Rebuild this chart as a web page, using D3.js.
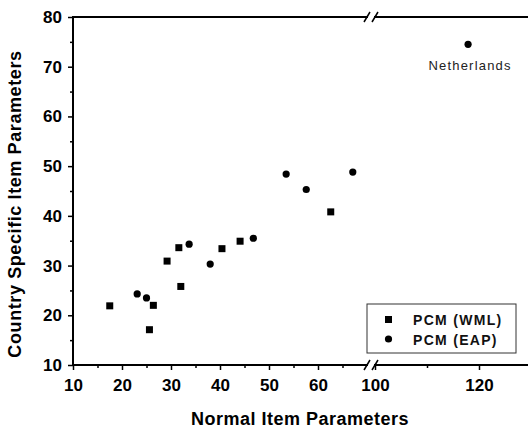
<!DOCTYPE html>
<head>
  <meta charset="utf-8">
  <script src="https://d3js.org/d3.v7.min.js"></script>
</head>
<style>
  body { margin: 0; background: #fff; }
  text { font-family: Arial, "Liberation Sans", sans-serif; }
</style>
<body>
<div id="chart"></div>
<script>
'use strict';

// PCM (WML) - squares
var wmlX = [17.5, 25.6, 26.4, 29.2, 31.6, 32.0, 40.4, 44.1, 62.6];
var wmlY = [21.9, 17.1, 22.0, 30.9, 33.6, 25.8, 33.4, 34.9, 40.8];
// PCM (EAP) - circles
var eapX = [23.1, 25.0, 33.7, 38.0, 46.8, 53.5, 57.6, 67.1, 117.9];
var eapY = [24.3, 23.5, 34.3, 30.3, 35.5, 48.4, 45.3, 48.8, 74.5];

var xTicksLeft = [10, 20, 30, 40, 50, 60];
var xMinorLeft = [15, 25, 35, 45, 55, 65];
var xTicksRight = [100, 120];
var xMinorRight = [110];
var yTicks = [10, 20, 30, 40, 50, 60, 70, 80];
var yMinor = [15, 25, 35, 45, 55, 65, 75];
var legendNames = ["PCM (WML)", "PCM (EAP)"];

var width = 528, height = 430;
var plotL = 73, plotR = 531, plotT = 17, plotB = 365;

// broken x axis: two linear pieces
var x1 = d3.scaleLinear().domain([10, 70]).range([plotL, 367]);
var x2 = d3.scaleLinear().domain([100, 130]).range([375, plotR]);
var x = function(v) { return v < 85 ? x1(v) : x2(v); };
var y = d3.scaleLinear().domain([10, 80]).range([plotB, plotT]);

var svg = d3.select("#chart").append("svg")
  .attr("width", width).attr("height", height);

function styleAxis(g, size) {
  g.selectAll(".domain").remove();
  g.selectAll(".tick line").attr("stroke", "#000").attr("stroke-width", 1.5);
  g.selectAll(".tick text").attr("fill", "#000")
    .style("font-size", size + "px").style("font-weight", "bold");
}

// x axis majors/minors
var gx = svg.append("g").attr("transform", "translate(0," + plotB + ")");
gx.append("g").call(d3.axisBottom(x1).tickValues(xTicksLeft).tickSize(5).tickPadding(9).tickFormat(d3.format("d"))).call(styleAxis, 17);
gx.append("g").call(d3.axisBottom(x1).tickValues(xMinorLeft).tickSize(3).tickFormat("")).call(styleAxis, 17);
gx.append("g").call(d3.axisBottom(x2).tickValues(xTicksRight).tickSize(5).tickPadding(9).tickFormat(d3.format("d"))).call(styleAxis, 17);
gx.append("g").call(d3.axisBottom(x2).tickValues(xMinorRight).tickSize(3).tickFormat("")).call(styleAxis, 17);

// y axis
var gy = svg.append("g").attr("transform", "translate(" + plotL + ",0)");
gy.append("g").call(d3.axisLeft(y).tickValues(yTicks).tickSize(5).tickPadding(6).tickFormat(d3.format("d"))).call(styleAxis, 17);
gy.append("g").call(d3.axisLeft(y).tickValues(yMinor).tickSize(3).tickFormat("")).call(styleAxis, 17);

// frame lines with break
var br1 = x1(70), br2 = x2(100);
var frame = svg.append("g").attr("stroke", "#000").attr("stroke-width", 2).attr("fill", "none");
[plotB, plotT].forEach(function(yy) {
  frame.append("line").attr("x1", plotL).attr("x2", br1 + 1).attr("y1", yy).attr("y2", yy);
  frame.append("line").attr("x1", br2 - 1).attr("x2", plotR).attr("y1", yy).attr("y2", yy);
  [br1, br2].forEach(function(bx) {
    frame.append("line").attr("stroke-width", 1.5)
      .attr("x1", bx - 3).attr("y1", yy + 5).attr("x2", bx + 3).attr("y2", yy - 5);
  });
});
frame.append("line").attr("x1", plotL).attr("x2", plotL).attr("y1", plotT - 1).attr("y2", plotB + 1);

// points
svg.append("g").selectAll("rect").data(wmlX).enter().append("rect")
  .attr("x", function(d) { return x(d) - 3.5; })
  .attr("y", function(d, i) { return y(wmlY[i]) - 3.5; })
  .attr("width", 7).attr("height", 7).attr("fill", "#000");

svg.append("g").selectAll("circle").data(eapX).enter().append("circle")
  .attr("cx", function(d) { return x(d); })
  .attr("cy", function(d, i) { return y(eapY[i]); })
  .attr("r", 3.6).attr("fill", "#000");

svg.append("text")
  .attr("x", x(eapX[8]) + 2).attr("y", y(eapY[8]) + 26)
  .attr("text-anchor", "middle")
  .style("font-size", "13px").style("letter-spacing", "1.2px").attr("fill", "#222")
  .text("Netherlands");

// legend
var lg = svg.append("g").attr("transform", "translate(367,304)");
lg.append("rect").attr("width", 149).attr("height", 49)
  .attr("fill", "#fff").attr("stroke", "#333").attr("stroke-width", 1);
lg.append("rect").attr("x", 18).attr("y", 12).attr("width", 7).attr("height", 7).attr("fill", "#000");
lg.append("circle").attr("cx", 21.5).attr("cy", 35).attr("r", 3.6).attr("fill", "#000");
lg.selectAll("text.leg").data(legendNames).enter().append("text")
  .attr("x", 46).attr("y", function(d, i) { return 21 + i * 19.5; })
  .style("font-size", "14px").style("font-weight", "bold").style("letter-spacing", "1.3px")
  .attr("fill", "#111")
  .text(function(d) { return d; });

// axis titles
svg.append("text")
  .attr("x", 300).attr("y", 425).attr("text-anchor", "middle")
  .style("font-size", "18px").style("font-weight", "bold").style("letter-spacing", "0.5px")
  .text("Normal Item Parameters");

svg.append("text")
  .attr("transform", "translate(21,204) rotate(-90)").attr("text-anchor", "middle")
  .style("font-size", "18px").style("font-weight", "bold").style("letter-spacing", "0.6px")
  .text("Country Specific Item Parameters");
</script>
</body>
